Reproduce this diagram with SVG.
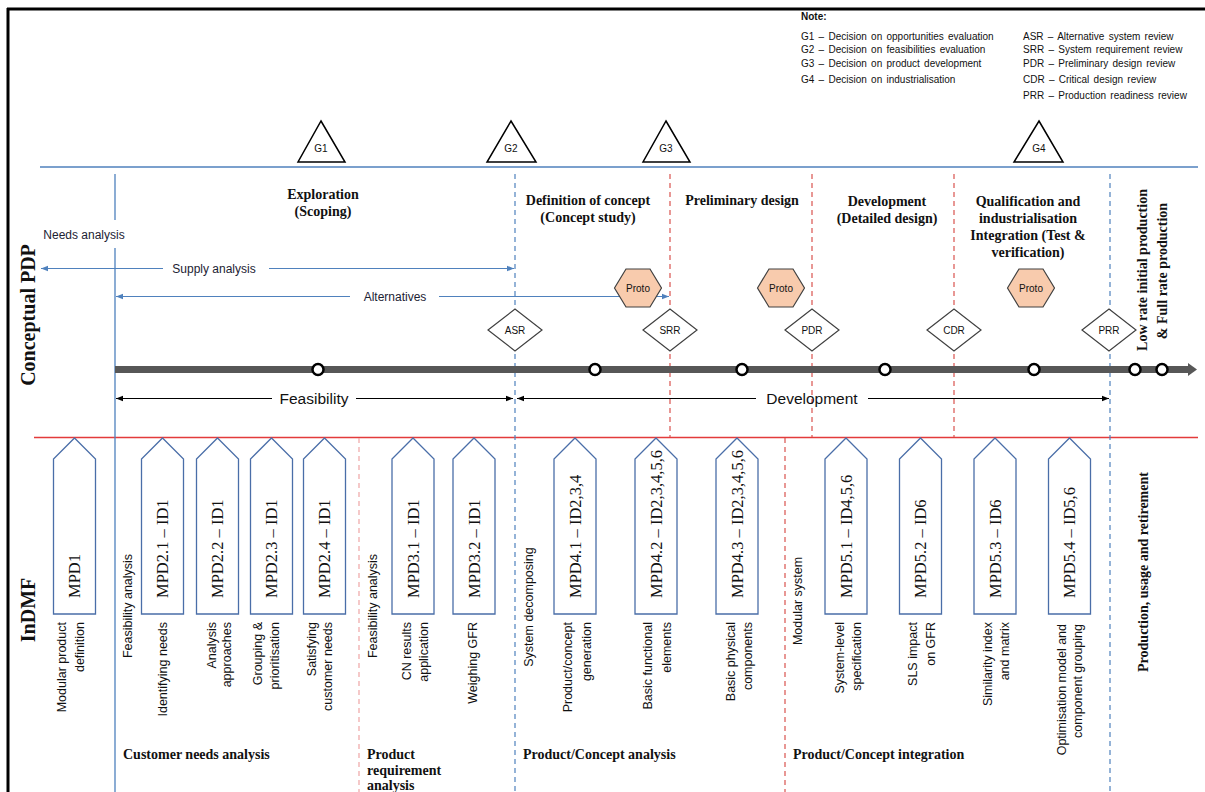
<svg xmlns="http://www.w3.org/2000/svg" width="1205" height="792" viewBox="0 0 1205 792">
<defs>
<style>
.title{font-family:"Liberation Serif","Times New Roman",serif;font-weight:bold;font-size:14px;fill:#111;text-anchor:middle}
.title-l{font-family:"Liberation Serif","Times New Roman",serif;font-weight:bold;font-size:14px;fill:#111;text-anchor:start}
.side{font-family:"Liberation Serif","Times New Roman",serif;font-weight:bold;font-size:20px;fill:#111;text-anchor:middle}
.lbl{font-family:"Liberation Sans",Arial,sans-serif;font-size:12.5px;fill:#111;text-anchor:end}
.lbl-m{font-family:"Liberation Sans",Arial,sans-serif;font-size:12.5px;fill:#111;text-anchor:middle}
.arrlbl{font-family:"Liberation Sans",Arial,sans-serif;font-size:12px;fill:#1c2233;text-anchor:middle}
.big{font-family:"Liberation Sans",Arial,sans-serif;font-size:15.5px;fill:#111;text-anchor:middle}
.mpd{font-family:"Liberation Serif","Times New Roman",serif;font-size:16.5px;fill:#111}
.note{font-family:"Liberation Sans",Arial,sans-serif;font-size:10px;fill:#111;word-spacing:1.5px}
.small{font-family:"Liberation Sans",Arial,sans-serif;font-size:10px;fill:#111;text-anchor:middle}
.gate{fill:#fff;stroke:#000;stroke-width:1.5}
.review{fill:#fff;stroke:#404040;stroke-width:1.2}
.proto{fill:#f8cbad;stroke:#404040;stroke-width:1.2}
.pent{fill:#fff;stroke:#4a6ea8;stroke-width:1.3}
.bl{stroke:#4f81bd;stroke-width:1.3;fill:none}
.red{stroke:#e33b3b;stroke-width:1.6;fill:none}
.bdash{stroke:#4f81bd;stroke-width:1.2;stroke-dasharray:5 4;fill:none}
.rdash{stroke:#d9534f;stroke-width:1.2;stroke-dasharray:5 4;fill:none}
.pdash{stroke:#efa5a5;stroke-width:1.2;stroke-dasharray:5 4;fill:none}
.arrB{stroke:#4f81bd;stroke-width:1.2;fill:none;marker-end:url(#ahB)}
.arrK{stroke:#000;stroke-width:1.1;fill:none;marker-end:url(#ahK)}
.stop{fill:#fff;stroke:#000;stroke-width:2.5}
</style>
<marker id="ahB" viewBox="0 0 10 10" refX="10" refY="5" markerWidth="7" markerHeight="7" markerUnits="userSpaceOnUse" orient="auto"><path d="M0,1 L10,5 L0,9 Z" fill="#4f81bd"/></marker>
<marker id="ahK" viewBox="0 0 10 10" refX="10" refY="5" markerWidth="7" markerHeight="7" markerUnits="userSpaceOnUse" orient="auto"><path d="M0,1 L10,5 L0,9 Z" fill="#000"/></marker>
</defs>

<rect width="1205" height="792" fill="#fff"/>

<!-- outer frame -->
<g id="frame" stroke="#000" stroke-width="3" fill="none">
  <path d="M7,9 H1205"/>
  <path d="M8,8 V792"/>
</g>

<!-- legend -->
<g id="legend">
  <text class="note" x="801" y="20" font-weight="bold">Note:</text>
  <text class="note" x="801" y="39.5">G1 – Decision on opportunities evaluation</text>
  <text class="note" x="801" y="53">G2 – Decision on feasibilities evaluation</text>
  <text class="note" x="801" y="67">G3 – Decision on product development</text>
  <text class="note" x="801" y="82.5">G4 – Decision on industrialisation</text>
  <text class="note" x="1023" y="39.5">ASR – Alternative system review</text>
  <text class="note" x="1023" y="53">SRR – System requirement review</text>
  <text class="note" x="1023" y="67">PDR – Preliminary design review</text>
  <text class="note" x="1023" y="82.5">CDR – Critical design review</text>
  <text class="note" x="1023" y="98.5">PRR – Production readiness review</text>
</g>

<!-- band dividers and phase boundaries -->
<g id="grid">
  <path class="bl" d="M40,167 H1198"/>
  <path class="red" d="M34,437.5 H1198"/>
  <path class="bl" d="M115,174 V220 M115,248 V792"/>
  <path class="bdash" d="M515,174 V792"/>
  <path class="rdash" d="M670,174 V437 M812,174 V437 M954,174 V437"/>
  <path class="bdash" d="M1110,174 V792"/>
  <path class="pdash" d="M359,438 V792"/>
  <path class="rdash" d="M785,438 V792"/>
</g>

<!-- band titles -->
<g id="bands">
  <text class="side" transform="translate(35,315) rotate(-90)">Conceptual PDP</text>
  <text class="side" transform="translate(35,610) rotate(-90)">InDMF</text>
</g>

<!-- phase headings -->
<g id="phases">
  <text class="title" x="323" y="199">Exploration</text>
  <text class="title" x="323" y="216">(Scoping)</text>
  <text class="title" x="588" y="205">Definition of concept</text>
  <text class="title" x="588" y="222">(Concept study)</text>
  <text class="title" x="742" y="205">Preliminary design</text>
  <text class="title" x="887" y="206">Development</text>
  <text class="title" x="887" y="223">(Detailed design)</text>
  <text class="title" x="1028" y="206">Qualification and</text>
  <text class="title" x="1028" y="223">industrialisation</text>
  <text class="title" x="1028" y="240">Integration (Test &amp;</text>
  <text class="title" x="1028" y="257">verification)</text>
  <text class="title" transform="translate(1147,270) rotate(-90)">Low rate initial production</text>
  <text class="title" transform="translate(1167,271) rotate(-90)">&amp; Full rate production</text>
  <text class="title" transform="translate(1148,572) rotate(-90)">Production, usage and retirement</text>
  <text class="title-l" x="123" y="759">Customer needs analysis</text>
  <text class="title-l" x="367" y="759">Product</text>
  <text class="title-l" x="367" y="775">requirement</text>
  <text class="title-l" x="367" y="790">analysis</text>
  <text class="title-l" x="523" y="759">Product/Concept analysis</text>
  <text class="title-l" x="793" y="759">Product/Concept integration</text>
</g>

<!-- decision gates -->
<g id="gate-g1"><polygon class="gate" points="321,121 345,162 298,162"/><text class="small" x="321" y="152">G1</text></g>
<g id="gate-g2"><polygon class="gate" points="511,121 536,162 487,162"/><text class="small" x="511" y="152">G2</text></g>
<g id="gate-g3"><polygon class="gate" points="666,121 690,162 643,162"/><text class="small" x="666" y="152">G3</text></g>
<g id="gate-g4"><polygon class="gate" points="1039,121 1063,162 1014,162"/><text class="small" x="1039" y="152">G4</text></g>

<!-- activity spans, timeline and milestones -->
<g id="connectors">
  <text class="arrlbl" x="84" y="239">Needs analysis</text>
  <path class="arrB" d="M163,268.5 H41"/>
  <path class="arrB" d="M269,268.5 H514"/>
  <text class="arrlbl" x="214" y="272.5">Supply analysis</text>
  <path class="arrB" d="M350,296.5 H116"/>
  <path class="arrB" d="M439,296.5 H669"/>
  <text class="arrlbl" x="395" y="300.5">Alternatives</text>

  <path d="M115,369.5 H1190" stroke="#575757" stroke-width="7" fill="none"/>
  <polygon points="1188,363 1197,369.5 1188,376" fill="#575757"/>

  <path class="arrK" d="M272,398.5 H116"/>
  <path class="arrK" d="M356,398.5 H513"/>
  <text class="big" x="314" y="404">Feasibility</text>
  <path class="arrK" d="M756,398.5 H517"/>
  <path class="arrK" d="M868,398.5 H1109"/>
  <text class="big" x="812" y="404">Development</text>
</g>

<g id="timeline-stops">
  <circle class="stop" cx="318" cy="369.5" r="5.5"/>
  <circle class="stop" cx="595" cy="369.5" r="5.5"/>
  <circle class="stop" cx="742" cy="369.5" r="5.5"/>
  <circle class="stop" cx="885" cy="369.5" r="5.5"/>
  <circle class="stop" cx="1034" cy="369.5" r="5.5"/>
  <circle class="stop" cx="1135" cy="369.5" r="5.5"/>
  <circle class="stop" cx="1162" cy="369.5" r="5.5"/>
</g>

<!-- technical reviews -->
<g id="review-asr"><polygon class="review" points="488,330 515,309 542,330 515,351"/><text class="small" x="515" y="334">ASR</text></g>
<g id="review-srr"><polygon class="review" points="643,330 670,309 697,330 670,351"/><text class="small" x="670" y="334">SRR</text></g>
<g id="review-pdr"><polygon class="review" points="785,330 812,309 839,330 812,351"/><text class="small" x="812" y="334">PDR</text></g>
<g id="review-cdr"><polygon class="review" points="927,330 954,309 981,330 954,351"/><text class="small" x="954" y="334">CDR</text></g>
<g id="review-prr"><polygon class="review" points="1082,330 1109,309 1136,330 1109,351"/><text class="small" x="1109" y="334">PRR</text></g>

<!-- prototypes -->
<g id="proto-1"><polygon class="proto" points="614.5,288 626,269 650,269 661.5,288 650,307 626,307"/><text class="small" x="638" y="292" font-size="10.5">Proto</text></g>
<g id="proto-2"><polygon class="proto" points="757.5,288 769,269 793,269 804.5,288 793,307 769,307"/><text class="small" x="781" y="292" font-size="10.5">Proto</text></g>
<g id="proto-3"><polygon class="proto" points="1007.5,288 1019,269 1043,269 1054.5,288 1043,307 1019,307"/><text class="small" x="1031" y="292" font-size="10.5">Proto</text></g>

<!-- group side notes -->
<g id="group-notes">
  <text class="lbl-m" transform="translate(132.4,606) rotate(-90)">Feasibility analysis</text>
  <text class="lbl-m" transform="translate(377.4,606) rotate(-90)">Feasibility analysis</text>
  <text class="lbl-m" transform="translate(533.4,607) rotate(-90)">System decomposing</text>
  <text class="lbl-m" transform="translate(802.4,601) rotate(-90)">Modular system</text>
</g>

<!-- InDMF modules -->
<g id="mpd1"><path class="pent" d="M74.5,438 L95.5,459 V614 H53.5 V459 Z"/><text class="mpd" transform="translate(80.3,598) rotate(-90)">MPD1</text>
  <text class="lbl" transform="translate(66.4,622) rotate(-90)">Modular product</text>
  <text class="lbl" transform="translate(84.4,622) rotate(-90)">definition</text></g>
<g id="mpd2-1"><path class="pent" d="M162.5,438 L183.5,459 V614 H141.5 V459 Z"/><text class="mpd" transform="translate(168.3,598) rotate(-90)">MPD2.1 – ID1</text>
  <text class="lbl" transform="translate(167.4,622) rotate(-90)">Identifying needs</text></g>
<g id="mpd2-2"><path class="pent" d="M217.5,438 L238.5,459 V614 H196.5 V459 Z"/><text class="mpd" transform="translate(223.3,598) rotate(-90)">MPD2.2 – ID1</text>
  <text class="lbl" transform="translate(216.4,622) rotate(-90)">Analysis</text>
  <text class="lbl" transform="translate(231.4,622) rotate(-90)">approaches</text></g>
<g id="mpd2-3"><path class="pent" d="M271.5,438 L292.5,459 V614 H250.5 V459 Z"/><text class="mpd" transform="translate(277.3,598) rotate(-90)">MPD2.3 – ID1</text>
  <text class="lbl" transform="translate(262.4,622) rotate(-90)">Grouping &amp;</text>
  <text class="lbl" transform="translate(279.4,622) rotate(-90)">prioritisation</text></g>
<g id="mpd2-4"><path class="pent" d="M324.5,438 L345.5,459 V614 H303.5 V459 Z"/><text class="mpd" transform="translate(330.3,598) rotate(-90)">MPD2.4 – ID1</text>
  <text class="lbl" transform="translate(316.4,622) rotate(-90)">Satisfying</text>
  <text class="lbl" transform="translate(332.4,622) rotate(-90)">customer needs</text></g>
<g id="mpd3-1"><path class="pent" d="M413,438 L434,459 V614 H392 V459 Z"/><text class="mpd" transform="translate(418.8,598) rotate(-90)">MPD3.1 – ID1</text>
  <text class="lbl" transform="translate(411.4,622) rotate(-90)">CN results</text>
  <text class="lbl" transform="translate(428.4,622) rotate(-90)">application</text></g>
<g id="mpd3-2"><path class="pent" d="M474,438 L495,459 V614 H453 V459 Z"/><text class="mpd" transform="translate(479.8,598) rotate(-90)">MPD3.2 – ID1</text>
  <text class="lbl" transform="translate(477.4,622) rotate(-90)">Weighing GFR</text></g>
<g id="mpd4-1"><path class="pent" d="M575,438 L596,459 V614 H554 V459 Z"/><text class="mpd" transform="translate(580.8,598) rotate(-90)">MPD4.1 – ID2,3,4</text>
  <text class="lbl" transform="translate(572.4,622) rotate(-90)">Product/concept</text>
  <text class="lbl" transform="translate(591.4,622) rotate(-90)">generation</text></g>
<g id="mpd4-2"><path class="pent" d="M656,438 L677,459 V614 H635 V459 Z"/><text class="mpd" transform="translate(661.8,598) rotate(-90)">MPD4.2 – ID2,3,4,5,6</text>
  <text class="lbl" transform="translate(652.4,622) rotate(-90)">Basic functional</text>
  <text class="lbl" transform="translate(671.4,622) rotate(-90)">elements</text></g>
<g id="mpd4-3"><path class="pent" d="M737,438 L758,459 V614 H716 V459 Z"/><text class="mpd" transform="translate(742.8,598) rotate(-90)">MPD4.3 – ID2,3,4,5,6</text>
  <text class="lbl" transform="translate(735.4,622) rotate(-90)">Basic physical</text>
  <text class="lbl" transform="translate(752.4,622) rotate(-90)">components</text></g>
<g id="mpd5-1"><path class="pent" d="M846,438 L867,459 V614 H825 V459 Z"/><text class="mpd" transform="translate(851.8,598) rotate(-90)">MPD5.1 – ID4,5,6</text>
  <text class="lbl" transform="translate(844.4,622) rotate(-90)">System-level</text>
  <text class="lbl" transform="translate(861.4,622) rotate(-90)">specification</text></g>
<g id="mpd5-2"><path class="pent" d="M920.5,438 L941.5,459 V614 H899.5 V459 Z"/><text class="mpd" transform="translate(926.3,598) rotate(-90)">MPD5.2 – ID6</text>
  <text class="lbl" transform="translate(917.4,622) rotate(-90)">SLS impact</text>
  <text class="lbl" transform="translate(935.4,622) rotate(-90)">on GFR</text></g>
<g id="mpd5-3"><path class="pent" d="M995,438 L1016,459 V614 H974 V459 Z"/><text class="mpd" transform="translate(1000.8,598) rotate(-90)">MPD5.3 – ID6</text>
  <text class="lbl" transform="translate(992.4,622) rotate(-90)">Similarity index</text>
  <text class="lbl" transform="translate(1009.4,622) rotate(-90)">and matrix</text></g>
<g id="mpd5-4"><path class="pent" d="M1069.5,438 L1090.5,459 V614 H1048.5 V459 Z"/><text class="mpd" transform="translate(1075.3,598) rotate(-90)">MPD5.4 – ID5,6</text>
  <text class="lbl" transform="translate(1066.4,624) rotate(-90)">Optimisation model and</text>
  <text class="lbl" transform="translate(1082.4,624) rotate(-90)">component grouping</text></g>
</svg>
